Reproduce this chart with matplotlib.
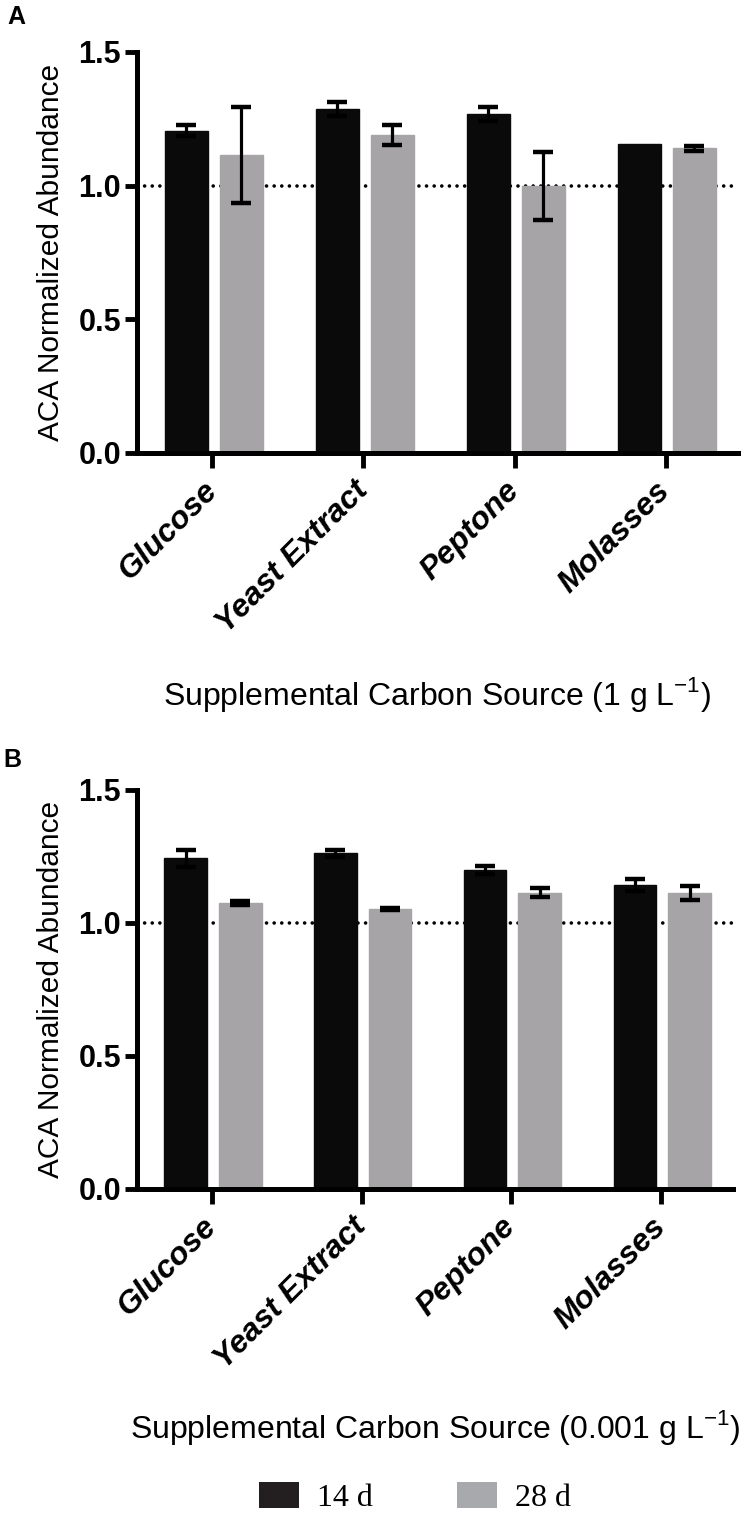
import matplotlib
matplotlib.use("Agg")
import matplotlib.pyplot as plt
import numpy as np
from matplotlib.patches import Patch

plt.rcParams["font.family"] = ["Liberation Sans", "DejaVu Sans"]
plt.rcParams["mathtext.fontset"] = "custom"
plt.rcParams["mathtext.rm"] = "Liberation Sans"

categories = ["Glucose", "Yeast Extract", "Peptone", "Molasses"]

# panel A (1 g/L)
a_14d = [1.206, 1.287, 1.268, 1.156]
a_14d_err = [0.021, 0.025, 0.027, 0.0]
a_28d = [1.114, 1.190, 0.998, 1.140]
a_28d_err = [0.180, 0.038, 0.128, 0.010]

# panel B (0.001 g/L)
b_14d = [1.243, 1.262, 1.199, 1.143]
b_14d_err = [0.031, 0.014, 0.015, 0.024]
b_28d = [1.076, 1.052, 1.114, 1.112]
b_28d_err = [0.008, 0.004, 0.016, 0.026]

black = "#0a0a0a"
gray = "#a6a4a7"


def draw_panel(ax, v14, e14, v28, e28, xlabel, label_y):
    x = np.arange(len(categories))
    w = 0.285
    # zero error -> no error bar drawn at all
    e14 = np.where(np.array(e14) > 0, e14, np.nan)
    e28 = np.where(np.array(e28) > 0, e28, np.nan)
    ax.axhline(1.0, color="black", linewidth=2.6, linestyle=(0, (0.01, 2.1)),
               dash_capstyle="round", zorder=1)
    ax.bar(x - 0.175, v14, w, color=black, edgecolor=black, linewidth=1, zorder=2)
    ax.bar(x + 0.19, v28, w, color=gray, edgecolor=gray, linewidth=1, zorder=2)
    ax.errorbar(x - 0.175, v14, yerr=e14, fmt="none", ecolor="black",
                elinewidth=2.3, capsize=7.5, capthick=3.2, zorder=3)
    ax.errorbar(x + 0.19, v28, yerr=e28, fmt="none", ecolor="black",
                elinewidth=2.3, capsize=7.5, capthick=3.2, zorder=3)

    ax.set_ylim(0, 1.5)
    ax.set_xlim(-0.5, 3.48)
    ax.set_yticks([0.0, 0.5, 1.0, 1.5])
    ax.set_yticklabels(["0.0", "0.5", "1.0", "1.5"], fontsize=22, fontweight="bold")
    ax.set_xticks(x)
    ax.set_xticklabels(categories, rotation=45, ha="right", va="center",
                       rotation_mode="anchor", fontsize=23, fontweight="bold",
                       fontstyle="italic")
    ax.tick_params(axis="y", length=8.5, width=3.5, pad=3)
    ax.tick_params(axis="x", length=11, width=3.5, pad=13)
    ax.spines[["top", "right"]].set_visible(False)
    ax.spines["left"].set_linewidth(3.6)
    ax.spines["bottom"].set_linewidth(3.6)
    ax.set_ylabel("ACA Normalized Abundance", fontsize=21.5, labelpad=10)
    ax.set_xlabel(xlabel, fontsize=23)
    ax.xaxis.set_label_coords(0.5, label_y)
    ax.xaxis.label.set_va("center")


fig = plt.figure(figsize=(7.49, 15.16), dpi=100)
ax_a = fig.add_axes([0.1829, 0.7012, 0.8024, 0.2645])
ax_b = fig.add_axes([0.1829, 0.2157, 0.7957, 0.2632])

draw_panel(ax_a, a_14d, a_14d_err, a_28d, a_28d_err,
           r"Supplemental Carbon Source (1 g L$^{-1}$)", -0.603)
draw_panel(ax_b, b_14d, b_14d_err, b_28d, b_28d_err,
           r"Supplemental Carbon Source (0.001 g L$^{-1}$)", -0.597)

fig.text(0.010, 1 - 5 / 1516, "A", fontsize=18, fontweight="bold", va="top", ha="left")
fig.text(0.004, 1 - 748 / 1516, "B", fontsize=18, fontweight="bold", va="top", ha="left")

handles = [Patch(facecolor="#231f20", edgecolor="none", label="14 d"),
           Patch(facecolor="#a7a9ac", edgecolor="none", label="28 d")]
fig.legend(handles=handles, loc="center", bbox_to_anchor=(0.554, 0.0122), ncol=2,
           frameon=False, prop={"family": "Liberation Serif", "size": 23},
           handlelength=1.25, handleheight=0.85, handletextpad=0.55,
           columnspacing=2.65)

fig.savefig("out.png", dpi=100, facecolor="white")
